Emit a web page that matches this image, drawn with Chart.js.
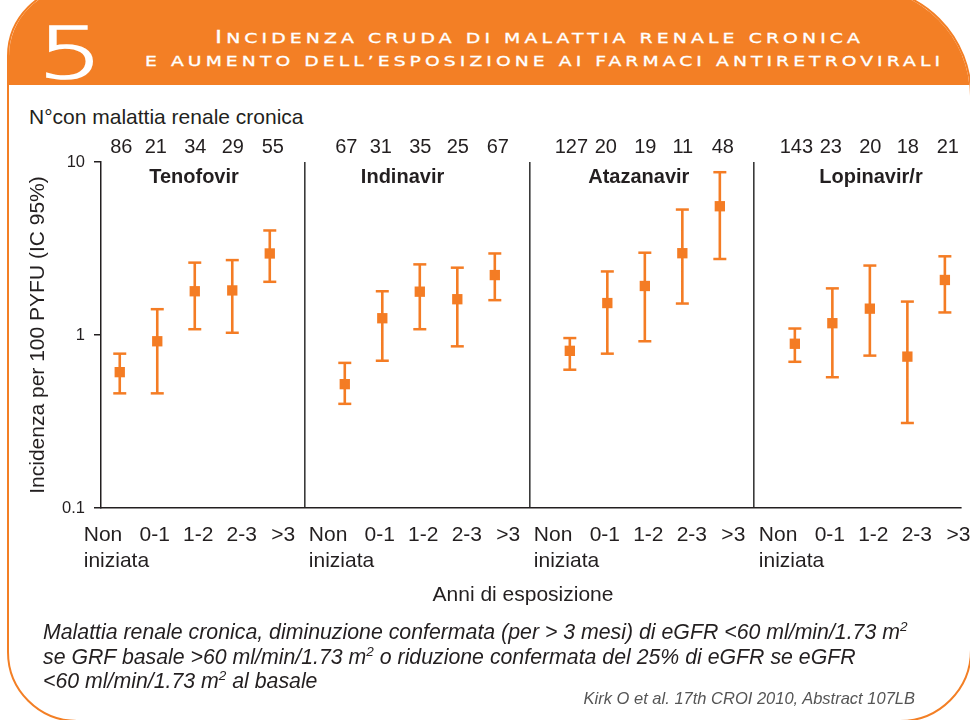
<!DOCTYPE html>
<html>
<head>
<meta charset="utf-8">
<script src="https://cdn.jsdelivr.net/npm/chart.js@4.4.1/dist/chart.umd.min.js"></script>
<style>
html,body{margin:0;padding:0;width:970px;height:720px;overflow:hidden;background:#fff;font-family:"Liberation Sans",Arial,Helvetica,sans-serif;color:#231f20;}
#frame{position:absolute;left:7px;top:-14px;width:965px;height:736px;box-sizing:border-box;border:2.5px solid #F37F25;border-radius:70px 110px 72px 70px;overflow:hidden;background:#fff;}
#header{position:absolute;left:0;top:0;width:100%;height:96.5px;background:#F37F25;}
#five{position:absolute;left:37px;top:17px;font-family:"DejaVu Sans",sans-serif;font-weight:200;font-size:72px;line-height:72px;color:#fff;-webkit-text-stroke:1.6px #fff;transform:scaleX(1.45);transform-origin:left top;}
.htitle{position:absolute;display:inline-block;font-family:"DejaVu Sans",sans-serif;font-size:13.8px;line-height:24px;color:#fff;text-transform:uppercase;letter-spacing:3px;white-space:nowrap;transform-origin:left top;-webkit-text-stroke:0.3px #fff;}
.htitle .big{font-size:17.5px;}
#chart{position:absolute;left:0;top:0;}
#ncases{position:absolute;left:29px;top:105px;font-size:21px;line-height:24px;white-space:nowrap;}
#xtitle{position:absolute;left:323px;width:400px;top:582px;text-align:center;font-size:21px;line-height:24px;}
.foot{position:absolute;left:43px;font-style:italic;font-size:21.3px;line-height:24.5px;white-space:nowrap;}
.foot sup{font-size:13.5px;line-height:0;vertical-align:8px;}
#cite{position:absolute;right:55px;top:688px;font-style:italic;font-size:16.5px;line-height:20px;color:#555;white-space:nowrap;}
</style>
</head>
<body>
<div id="frame"><div id="header"></div></div>
<div id="five">5</div>
<div class="htitle" id="ht1" style="top:25px"><span class="big">I</span>ncidenza cruda di malattia renale cronica</div>
<div class="htitle" id="ht2" style="top:49px">e aumento dell’esposizione ai farmaci antiretrovirali</div>
<div id="ncases">N°con malattia renale cronica</div>
<canvas id="chart" width="970" height="720"></canvas>
<div id="xtitle">Anni di esposizione</div>
<div class="foot" style="top:620px">Malattia renale cronica, diminuzione confermata (per &gt; 3 mesi) di eGFR &lt;60 ml/min/1.73 m<sup>2</sup></div>
<div class="foot" style="top:644.5px">se GRF basale &gt;60 ml/min/1.73 m<sup>2</sup> o riduzione confermata del 25% di eGFR se eGFR</div>
<div class="foot" style="top:669px">&lt;60 ml/min/1.73 m<sup>2</sup> al basale</div>
<div id="cite">Kirk O et al. 17th CROI 2010, Abstract 107LB</div>
<script>
// ---- Data ----
const categories = ["Non\niniziata", "0-1", "1-2", "2-3", ">3"];
const drugs = ["Tenofovir", "Indinavir", "Atazanavir", "Lopinavir/r"];
const nCases = [
  [86, 21, 34, 29, 55],
  [67, 31, 35, 25, 67],
  [127, 20, 19, 11, 48],
  [143, 23, 20, 18, 21]
];
const incidence = [
  [0.61, 0.92, 1.79, 1.81, 2.96],
  [0.52, 1.25, 1.78, 1.61, 2.22],
  [0.81, 1.53, 1.92, 2.97, 5.55],
  [0.89, 1.17, 1.42, 0.75, 2.08]
];
const ciLow = [
  [0.46, 0.46, 1.08, 1.03, 2.03],
  [0.40, 0.71, 1.08, 0.86, 1.59],
  [0.63, 0.78, 0.92, 1.52, 2.75],
  [0.70, 0.57, 0.76, 0.31, 1.35]
];
const ciHigh = [
  [0.78, 1.41, 2.62, 2.71, 4.02],
  [0.69, 1.79, 2.56, 2.45, 2.96],
  [0.96, 2.33, 2.99, 5.31, 8.73],
  [1.09, 1.86, 2.52, 1.56, 2.85]
];
const yTicks = [0.1, 1, 10];

// ---- header title fitting (layout only) ----
[['ht1', 215, 645], ['ht2', 145, 795]].forEach(([id, left, w]) => {
  const el = document.getElementById(id);
  const cur = el.getBoundingClientRect().width - 3;
  el.style.left = left + 'px';
  el.style.transform = 'scaleX(' + (w / cur) + ')';
});

// ---- Layout helpers (positions on the category axis) ----
const GROUP = 6;                       // 5 categories + 1 gap per drug panel
const separators = [4.94, 10.94, 16.9];
const titleOffsets = [1.98, 1.54, 1.84, 2.03];
const labelOffsets = [0, -2.5, 3.5, 9.5, 13.5];
const countOffsets = [1.5, -1.5, 0.5, 0.5, 3];
const ORANGE = '#F47C24';
const INK = '#231f20';
const FONT = '"Liberation Sans", Arial, Helvetica, sans-serif';

const markerData = [], capData = [], whiskerData = [];
drugs.forEach((d, p) => {
  categories.forEach((c, i) => {
    const x = p * GROUP + i;
    markerData.push({x: x, y: incidence[p][i]});
    capData.push({x: x, y: ciLow[p][i]}, {x: x, y: ciHigh[p][i]});
    whiskerData.push({x: x, y: ciLow[p][i]}, {x: x, y: ciHigh[p][i]}, {x: x, y: null});
  });
});

const textPlugin = {
  id: 'panelText',
  afterDraw(chart) {
    const ctx = chart.ctx, xs = chart.scales.x;
    ctx.save();
    ctx.fillStyle = INK;
    ctx.textBaseline = 'alphabetic';
    drugs.forEach((d, p) => {
      ctx.font = '20px ' + FONT;
      ctx.textAlign = 'center';
      nCases[p].forEach((n, i) => {
        ctx.fillText(String(n), xs.getPixelForValue(p * GROUP + i) + countOffsets[i], 152.5);
      });
      ctx.font = 'bold 20px ' + FONT;
      ctx.fillText(d, xs.getPixelForValue(p * GROUP + titleOffsets[p]), 183);
      ctx.font = '21px ' + FONT;
      categories.forEach((c, i) => {
        const px = xs.getPixelForValue(p * GROUP + i);
        const lines = c.split('\n');
        if (i === 0) {
          ctx.textAlign = 'left';
          lines.forEach((ln, k) => ctx.fillText(ln, px - 36, 541 + k * 26));
        } else {
          ctx.textAlign = 'center';
          lines.forEach((ln, k) => ctx.fillText(ln, px + labelOffsets[i], 541 + k * 26));
        }
      });
    });
    ctx.restore();
  }
};

new Chart(document.getElementById('chart'), {
  type: 'scatter',
  data: {
    datasets: [
      {
        label: 'Incidenza',
        data: markerData,
        pointStyle: 'rect',
        pointRadius: 7.3,
        pointBackgroundColor: ORANGE,
        pointBorderWidth: 0,
        showLine: false,
        order: 0
      },
      {
        label: 'caps',
        data: capData,
        pointStyle: 'line',
        pointRadius: 6.5,
        pointBorderColor: ORANGE,
        pointBorderWidth: 2.5,
        showLine: false,
        order: 1
      },
      {
        label: 'IC 95%',
        data: whiskerData,
        showLine: true,
        spanGaps: false,
        borderColor: ORANGE,
        borderWidth: 2.6,
        pointRadius: 0,
        order: 2
      }
    ]
  },
  plugins: [textPlugin],
  options: {
    responsive: false,
    animation: false,
    events: [],
    layout: {padding: {top: 162, left: 0, right: 0, bottom: 0}},
    plugins: {legend: {display: false}, tooltip: {enabled: false}},
    scales: {
      x: {
        type: 'linear',
        min: -0.5,
        max: 22.43,
        afterBuildTicks: (axis) => { axis.ticks = separators.map(v => ({value: v})); },
        afterFit: (axis) => { axis.height = 212; },
        ticks: {display: false},
        grid: {display: true, color: '#3a3a3a', lineWidth: 1.6, drawTicks: false, tickLength: 0},
        border: {display: true, color: INK, width: 1.5}
      },
      y: {
        type: 'logarithmic',
        min: 0.1,
        max: 10,
        afterBuildTicks: (axis) => { axis.ticks = yTicks.map(v => ({value: v})); },
        afterFit: (axis) => { axis.width = 101; },
        ticks: {
          color: INK,
          font: {size: 16.5, family: FONT},
          padding: 9,
          callback: (v) => String(v)
        },
        grid: {drawOnChartArea: false, drawTicks: true, tickLength: 7, color: INK, lineWidth: 1.5},
        border: {display: true, color: INK, width: 1.5},
        title: {
          display: true,
          text: 'Incidenza per 100 PYFU (IC 95%)',
          color: INK,
          font: {size: 21, family: FONT},
          padding: {top: 25.4, bottom: 0}
        }
      }
    }
  }
});
</script>
</body>
</html>
